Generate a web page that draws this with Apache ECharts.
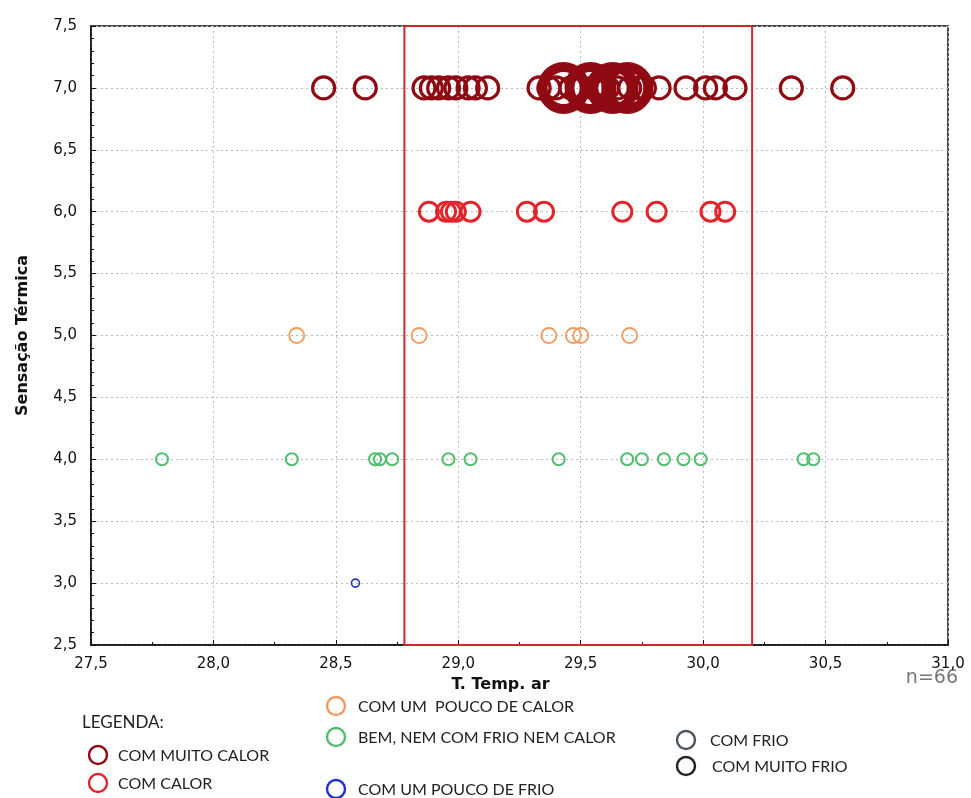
<!DOCTYPE html>
<html>
<head>
<meta charset="utf-8">
<script src="https://cdn.jsdelivr.net/npm/echarts@6/dist/echarts.min.js"></script>
<style>html,body{margin:0;padding:0;background:#fff}#c{width:971px;height:798px}</style>
</head>
<body>
<div id="c"></div>
<script>
// ---- data ----
const classes = ['COM MUITO CALOR','COM CALOR','COM UM  POUCO DE CALOR','BEM, NEM COM FRIO NEM CALOR','COM UM POUCO DE FRIO','COM FRIO','COM MUITO FRIO'];
const niveisSensacao = [7, 6, 5, 4, 3, 2, 1];
// T. Temp. ar values per class
const tempMuitoCalor = [28.45, 28.62, 28.86, 28.89, 28.92, 28.96, 28.99, 29.04, 29.07, 29.12, 29.33, 29.37, 29.40, 29.46, 29.50, 29.55, 29.58, 29.61, 29.65, 29.70, 29.74, 29.76, 29.82, 29.93, 30.01, 30.05, 30.13, 30.36, 30.57];
const tempMuitoCalorSobrepostos = [29.43, 29.54, 29.63, 29.69];
const tempCalor = [28.88, 28.95, 28.97, 28.99, 29.05, 29.28, 29.35, 29.67, 29.81, 30.03, 30.09];
const tempPoucoCalor = [28.34, 28.84, 29.37, 29.47, 29.50, 29.70];
const tempBem = [27.79, 28.32, 28.66, 28.68, 28.73, 28.96, 29.05, 29.41, 29.69, 29.75, 29.84, 29.92, 29.99, 30.41, 30.45];
const tempPoucoFrio = [28.58];
const tempFrio = [];
const tempMuitoFrio = [];
const faixaConforto = [28.78, 30.20];
const xTicks = [27.5, 28.0, 28.5, 29.0, 29.5, 30.0, 30.5, 31.0];
const yTicks = [2.5, 3.0, 3.5, 4.0, 4.5, 5.0, 5.5, 6.0, 6.5, 7.0, 7.5];
const nTotal = 66;

// ---- styles ----
const colors = ['#8f0a12', '#e2252b', '#f29a5c', '#52bd6e', '#2233cc', '#4a5560', '#222222'];
const fmt = v => v.toFixed(1).replace('.', ',');
const pts = (arr, lvl) => arr.map(x => [x, lvl]);

const chart = echarts.init(document.getElementById('c'), null, {renderer: 'canvas'});
const tickFont = {fontFamily: 'DejaVu Sans', fontSize: 15, color: '#111'};

function sc(name, data, color, size, bw, z) {
  return {
    type: 'scatter', name: name, data: data, symbol: 'circle', symbolSize: size, z: z || 2,
    itemStyle: {color: 'rgba(255,255,255,0)', borderColor: color, borderWidth: bw, opacity: 1},
    emphasis: {disabled: true}
  };
}

const series = [
  sc(classes[0], pts(tempMuitoCalorSobrepostos, niveisSensacao[0]), colors[0], 42, 10, 3),
  sc(classes[0], pts(tempMuitoCalor, niveisSensacao[0]), colors[0], 22, 3.2, 4),
  sc(classes[1], pts(tempCalor, niveisSensacao[1]), colors[1], 19, 3, 4),
  sc(classes[2], pts(tempPoucoCalor, niveisSensacao[2]), colors[2], 15, 1.8, 4),
  sc(classes[3], pts(tempBem, niveisSensacao[3]), colors[3], 12, 2, 4),
  sc(classes[4], pts(tempPoucoFrio, niveisSensacao[4]), colors[4], 8, 1.6, 4),
  sc(classes[5], pts(tempFrio, niveisSensacao[5]), colors[5], 12, 1.8, 4),
  sc(classes[6], pts(tempMuitoFrio, niveisSensacao[6]), colors[6], 12, 1.8, 4),
  {
    type: 'scatter', data: [], z: 5,
    markArea: {
      silent: true,
      itemStyle: {color: 'rgba(0,0,0,0)', borderColor: '#d2262a', borderWidth: 2},
      data: [[{xAxis: faixaConforto[0], yAxis: yTicks[0]}, {xAxis: faixaConforto[1], yAxis: yTicks[yTicks.length - 1]}]]
    }
  }
];

// legend drawn as graphic
const legendFont = 'Lato';
function legItem(cx, cy, color, text, tx) {
  return [
    {type: 'circle', shape: {cx: cx, cy: cy, r: 9}, style: {fill: 'none', stroke: color, lineWidth: 2.4}},
    {type: 'text', x: tx, y: cy + 1, style: {text: text, fill: '#222', font: '16px ' + legendFont, verticalAlign: 'middle'}}
  ];
}
const graphics = [
  {type: 'text', x: 82, y: 723, style: {text: 'LEGENDA:', fill: '#222', font: '17px ' + legendFont, verticalAlign: 'middle'}},
  {type: 'text', x: 958, y: 678, style: {text: 'n=' + nTotal, fill: '#777', font: '19px "DejaVu Sans"', align: 'right', verticalAlign: 'middle'}}
]
  .concat(legItem(98, 755, colors[0], classes[0], 118))
  .concat(legItem(98, 783, colors[1], classes[1], 118))
  .concat(legItem(336, 706, colors[2], classes[2], 358))
  .concat(legItem(336, 737, colors[3], classes[3], 358))
  .concat(legItem(336, 789, colors[4], classes[4], 358))
  .concat(legItem(686, 740, colors[5], classes[5], 710))
  .concat(legItem(686, 766, colors[6], classes[6], 712));

chart.setOption({
  animation: false,
  backgroundColor: '#fff',
  grid: {left: 91, right: 23, top: 26, bottom: 153, show: true, borderColor: '#111', borderWidth: 1.5, backgroundColor: 'rgba(0,0,0,0)'},
  xAxis: {
    type: 'value', min: xTicks[0], max: xTicks[xTicks.length - 1], interval: 0.5,
    name: 'T. Temp. ar', nameLocation: 'middle', nameGap: 30,
    nameTextStyle: {fontFamily: 'DejaVu Sans', fontSize: 16, fontWeight: 'bold', color: '#111', padding: [0, 38, 0, 0]},
    axisLine: {show: true, lineStyle: {color: '#111', width: 1.5}},
    axisTick: {show: true, inside: true, length: 5, lineStyle: {color: '#111'}},
    minorTick: {show: true, splitNumber: 2, length: 3, lineStyle: {color: '#111'}},
    axisLabel: Object.assign({margin: 12, formatter: fmt}, tickFont),
    splitLine: {show: true, lineStyle: {color: '#bbb', type: [2, 3], width: 1}}
  },
  yAxis: {
    type: 'value', min: yTicks[0], max: yTicks[yTicks.length - 1], interval: 0.5,
    name: 'Sensação Térmica', nameLocation: 'middle', nameGap: 60, nameRotate: 90,
    nameTextStyle: {fontFamily: 'DejaVu Sans', fontSize: 16, fontWeight: 'bold', color: '#111'},
    axisLine: {show: true, lineStyle: {color: '#111', width: 1.5}},
    axisTick: {show: true, inside: true, length: 5, lineStyle: {color: '#111'}},
    minorTick: {show: true, splitNumber: 5, length: 3, lineStyle: {color: '#111'}},
    axisLabel: Object.assign({margin: 14, formatter: fmt}, tickFont),
    splitLine: {show: true, lineStyle: {color: '#bbb', type: [2, 3], width: 1}}
  },
  series: series,
  graphic: graphics
});
</script>
</body>
</html>
